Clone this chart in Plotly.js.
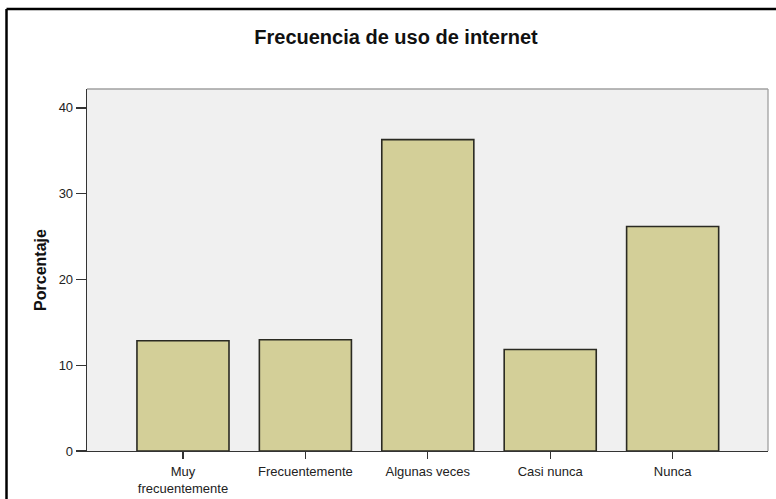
<!DOCTYPE html>
<html>
<head>
<meta charset="utf-8">
<script src="https://cdn.plot.ly/plotly-3.0.1.min.js"></script>
<style>html,body{margin:0;padding:0;background:#fff;}#chart{width:776px;height:499px;}</style>
</head>
<body>
<div id="chart"></div>
<script>
const categories = ["Muy<br>frecuentemente", "Frecuentemente", "Algunas veces", "Casi nunca", "Nunca"];
const percentages = [12.85, 12.97, 36.3, 11.83, 26.17];
const yTicks = [0, 10, 20, 30, 40];

const trace = {
  type: "bar",
  x: categories,
  y: percentages,
  marker: { color: "#d3cf98", line: { color: "#2a2a22", width: 1.6 } },
  hoverinfo: "x+y"
};

const layout = {
  width: 776,
  height: 499,
  margin: { l: 87, r: 8, t: 89, b: 48, pad: 0 },
  paper_bgcolor: "#ffffff",
  plot_bgcolor: "#f0f0f0",
  showlegend: false,
  bargap: 0.248,
  font: { family: "Liberation Sans, Arial, sans-serif", size: 13, color: "#222" },
  title: {
    text: "<b>Frecuencia de uso de internet</b>",
    font: { family: "Liberation Sans, Arial, sans-serif", size: 20, color: "#111" },
    x: 396 / 776, xanchor: "center", xref: "container",
    y: 1 - 37 / 499, yanchor: "middle", yref: "container"
  },
  xaxis: {
    type: "category",
    range: [-0.784, 4.779],
    showgrid: false,
    zeroline: false,
    showline: true,
    linecolor: "#333",
    linewidth: 1.3,
    ticks: "outside",
    ticklen: 7,
    tickwidth: 1.3,
    tickcolor: "#333",
    ticklabelstandoff: 1,
    tickfont: { size: 13, color: "#222" },
    fixedrange: true
  },
  yaxis: {
    range: [0, 42.2],
    tickvals: yTicks,
    ticktext: yTicks.map(String),
    showgrid: false,
    zeroline: false,
    showline: true,
    linecolor: "#333",
    linewidth: 1.3,
    ticks: "outside",
    ticklen: 10,
    tickwidth: 1.3,
    tickcolor: "#333",
    tickfont: { size: 13, color: "#222" },
    title: {
      text: "<b>Porcentaje</b>",
      font: { family: "Liberation Sans, Arial, sans-serif", size: 16, color: "#111" },
      standoff: 8
    },
    fixedrange: true
  },
  shapes: [
    { type: "line", xref: "paper", yref: "paper", x0: 0, x1: 1, y0: 1, y1: 1,
      line: { color: "#a0a0a0", width: 1.3 }, layer: "below" },
    { type: "line", xref: "paper", yref: "paper", x0: 1, x1: 1, y0: 0, y1: 1,
      line: { color: "#a0a0a0", width: 1.3 }, layer: "below" },
    { type: "line", xref: "paper", yref: "paper", x0: -0.1182, x1: 1.02, y0: 1.2213, y1: 1.2213,
      line: { color: "#000", width: 2.5 } },
    { type: "line", xref: "paper", yref: "paper", x0: -0.1182, x1: -0.1182, y0: 1.2213, y1: -0.15,
      line: { color: "#000", width: 2.5 } }
  ]
};

Plotly.newPlot("chart", [trace], layout, { displayModeBar: false, staticPlot: true });
</script>
</body>
</html>
